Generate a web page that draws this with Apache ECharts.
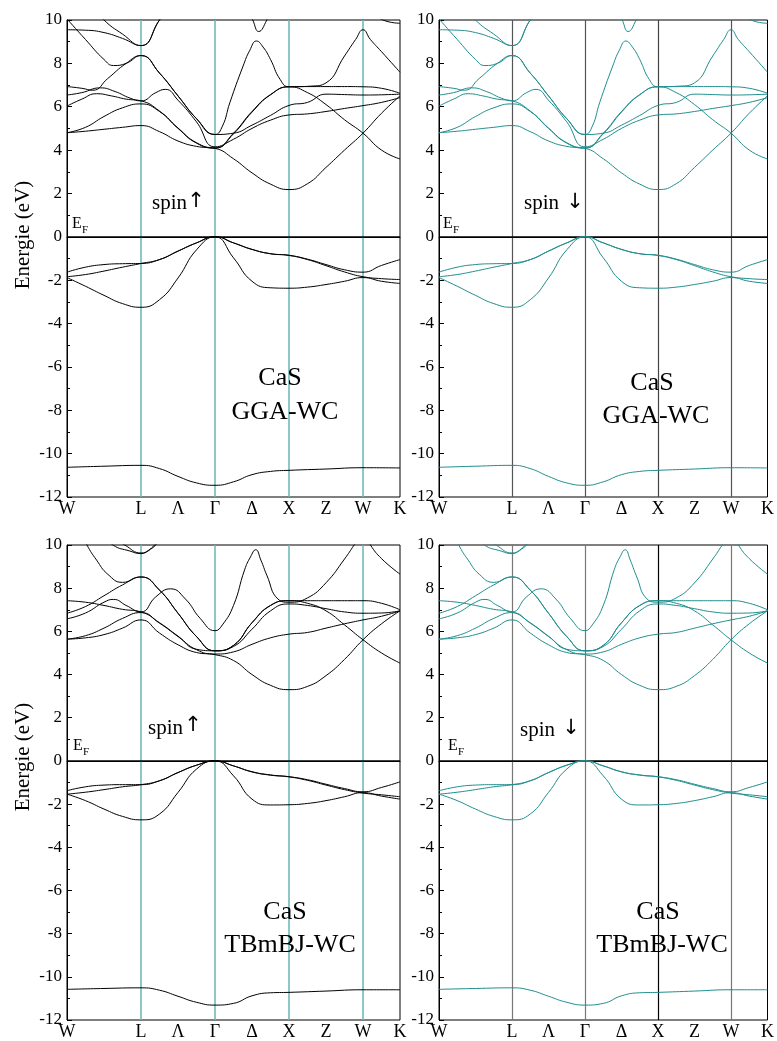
<!DOCTYPE html>
<html><head><meta charset="utf-8">
<script src="https://cdn.jsdelivr.net/npm/echarts/dist/echarts.min.js"></script>
<style>html,body{margin:0;padding:0;background:#fff}#c{width:777px;height:1041px}</style>
</head><body><div id="c"></div>
<script>
// ---------- k-path (W L Γ X W K) ----------
const kTicks  = [0, 0.5, 1, 1.5, 2, 2.5, 3, 3.5, 4, 4.5];
const kLabels = ['W', '', 'L', 'Λ', 'Γ', 'Δ', 'X', 'Z', 'W', 'K'];
const symLines = [1, 2, 3, 4];          // L, Γ, X, W vertical lines
const eMin = -12, eMax = 10, eStep = 2;

// ---------- GGA-WC bands [k, E(eV)] ----------
const ggaS  = [[0,-10.63],[0.5,-10.58],[1,-10.54],[1.25,-10.69],[1.5,-11.05],[1.75,-11.35],[2,-11.46],[2.25,-11.3],[2.5,-10.97],[2.75,-10.82],[3,-10.77],[3.5,-10.71],[4,-10.65],[4.5,-10.66]];
const ggaV1 = [[0,-1.88],[0.25,-2.28],[0.5,-2.7],[0.75,-3.08],[1,-3.25],[1.25,-2.9],[1.5,-1.9],[1.75,-0.6],[2,0],[2.25,-0.97],[2.5,-2.05],[2.75,-2.35],[3,-2.37],[3.25,-2.32],[3.5,-2.2],[3.75,-2.05],[4,-1.88],[4.25,-2.05],[4.5,-2.15]];
const ggaV2 = [[0,-1.84],[0.25,-1.74],[0.5,-1.58],[0.75,-1.4],[1,-1.23],[1.25,-1.05],[1.5,-0.66],[1.75,-0.28],[2,0],[2.25,-0.28],[2.5,-0.58],[2.75,-0.78],[3,-0.86],[3.25,-1.05],[3.5,-1.33],[3.75,-1.62],[4,-1.84],[4.25,-1.93],[4.5,-1.97]];
const ggaV3 = [[0,-1.63],[0.25,-1.4],[0.5,-1.28],[0.75,-1.24],[1,-1.23],[1.25,-1.05],[1.5,-0.66],[1.75,-0.28],[2,0],[2.25,-0.28],[2.5,-0.58],[2.75,-0.78],[3,-0.85],[3.25,-1.03],[3.5,-1.28],[3.75,-1.52],[4,-1.63],[4.25,-1.32],[4.5,-1.05]];
const ggaC1 = [[0,4.8],[0.25,4.87],[0.5,4.96],[0.75,5.05],[1,5.13],[1.25,4.85],[1.5,4.42],[1.75,4.17],[2,4.08],[2.25,3.6],[2.5,2.95],[2.75,2.43],[3,2.18],[3.25,2.45],[3.5,3.2],[3.75,4.0],[4,4.78],[4.25,5.7],[4.5,6.5]];
const ggaC2 = [[0,4.8],[0.25,5.05],[0.5,5.55],[0.75,5.95],[1,6.13],[1.25,5.78],[1.5,5.0],[1.75,4.32],[2,4.09],[2.25,4.75],[2.5,5.75],[2.75,6.55],[3,6.92],[3.25,6.93],[3.5,6.93],[3.75,6.93],[4,6.92],[4.25,6.85],[4.5,6.62]];
const ggaC3 = [[0,6.03],[0.2,6.35],[0.4,6.6],[0.6,6.5],[0.8,6.35],[1,6.27],[1.25,5.8],[1.5,5.02],[1.75,4.34],[2,4.1],[2.25,4.78],[2.5,5.78],[2.75,6.56],[3,6.92],[3.25,6.65],[3.5,6.1],[3.75,5.4],[4,4.78],[4.25,4.0],[4.5,3.59]];
const ggaC4 = [[0,6.54],[0.2,6.65],[0.45,6.87],[0.65,6.7],[0.85,6.4],[1,6.27],[1.2,6.65],[1.33,6.8],[1.5,6.3],[1.75,5.3],[2,4.15],[2.25,4.5],[2.5,5.0],[2.75,5.38],[3,5.62],[3.25,5.67],[3.5,5.78],[3.75,5.92],[4,6.05],[4.25,6.2],[4.5,6.42]];
const ggaC5 = [[0,6.93],[0.2,6.85],[0.35,6.76],[0.55,7.3],[0.8,8.0],[1,8.36],[1.25,7.55],[1.5,6.5],[1.75,5.45],[2,4.72],[2.25,4.78],[2.5,5.15],[2.75,5.6],[3,6.06],[3.25,6.2],[3.5,6.58],[3.75,6.56],[4,6.54],[4.25,6.55],[4.5,6.58]];
const ggaC6 = [[0,10.05],[0.25,9.1],[0.5,8.18],[0.63,7.9],[0.8,8.0],[1,8.36],[1.25,7.55],[1.5,6.5],[1.75,5.45],[2,4.72],[2.1,5.1],[2.2,6.18],[2.38,7.88],[2.47,8.6],[2.56,9.03],[2.65,8.75],[2.75,8.18],[2.88,7.26],[3,6.92],[3.3,6.95],[3.5,7.1],[3.75,8.34],[3.9,9.1],[4,9.55],[4.1,9.1],[4.25,8.54],[4.5,7.59]];
const ggaC7 = [[0,9.55],[0.25,9.53],[0.5,9.42],[0.75,9.15],[1,8.82],[1.25,10.0],[1.5,11.2]];
const ggaC8 = [[0.25,11.0],[0.5,10.0],[0.75,9.35],[1,8.82],[1.25,10.0],[1.5,11.2]];
const ggaC9 = [[2.4,10.8],[2.51,10.0],[2.59,9.47],[2.7,10.0],[2.8,10.8]];
const ggaC10 = [[4.0,10.6],[4.27,10.0],[4.5,9.85]];

// ---------- TB-mBJ bands [k, E(eV)] ----------
const tbS  = [[0,-10.58],[0.5,-10.54],[1,-10.51],[1.25,-10.62],[1.5,-10.9],[1.75,-11.18],[2,-11.31],[2.25,-11.23],[2.5,-10.88],[2.75,-10.74],[3,-10.72],[3.5,-10.66],[4,-10.6],[4.5,-10.6]];
const tbV1 = [[0,-1.54],[0.25,-1.84],[0.5,-2.23],[0.75,-2.57],[1,-2.73],[1.25,-2.46],[1.5,-1.46],[1.75,-0.38],[2,0],[2.25,-0.69],[2.5,-1.77],[2.75,-2.04],[3,-2.03],[3.25,-1.97],[3.5,-1.84],[3.75,-1.66],[4,-1.47],[4.25,-1.63],[4.5,-1.77]];
const tbV2 = [[0,-1.54],[0.25,-1.45],[0.5,-1.33],[0.75,-1.2],[1,-1.1],[1.25,-0.92],[1.5,-0.54],[1.75,-0.2],[2,0],[2.25,-0.23],[2.5,-0.51],[2.75,-0.66],[3,-0.74],[3.25,-0.9],[3.5,-1.12],[3.75,-1.33],[4,-1.49],[4.25,-1.57],[4.5,-1.66]];
const tbV3 = [[0,-1.38],[0.25,-1.2],[0.5,-1.12],[0.75,-1.1],[1,-1.1],[1.25,-0.92],[1.5,-0.54],[1.75,-0.2],[2,0],[2.25,-0.23],[2.5,-0.5],[2.75,-0.65],[3,-0.73],[3.25,-0.87],[3.5,-1.08],[3.75,-1.28],[4,-1.43],[4.25,-1.23],[4.5,-0.97]];
const tbC1 = [[0,5.64],[0.25,5.7],[0.5,5.85],[0.75,6.15],[1,6.53],[1.25,5.92],[1.5,5.38],[1.75,5.02],[2,4.92],[2.25,4.65],[2.5,4.0],[2.75,3.5],[3,3.3],[3.25,3.45],[3.5,3.95],[3.75,4.7],[4,5.61],[4.25,6.35],[4.5,6.95]];
const tbC2 = [[0,5.64],[0.25,5.8],[0.5,6.15],[0.75,6.6],[1,6.87],[1.25,6.38],[1.5,5.76],[1.75,5.15],[2,4.95],[2.25,5.05],[2.5,5.4],[2.75,5.7],[3,5.87],[3.25,5.95],[3.5,6.15],[3.75,6.35],[4,6.53],[4.25,6.7],[4.5,6.95]];
const tbC3 = [[0,6.58],[0.25,6.85],[0.5,7.35],[0.63,7.48],[0.8,7.2],[1,6.9],[1.2,7.6],[1.4,7.97],[1.6,7.5],[1.8,6.6],[2,6.03],[2.1,6.3],[2.25,7.2],[2.4,8.85],[2.48,9.45],[2.55,9.78],[2.62,9.3],[2.7,8.6],[2.85,7.5],[3,7.35],[3.25,7.55],[3.5,8.25],[3.75,9.35],[3.88,10.0],[4,10.6],[4.1,10.0],[4.25,9.37],[4.5,8.65]];
const tbC4 = [[0,7.42],[0.25,7.35],[0.5,7.2],[0.75,7.02],[1,6.9],[1.25,6.4],[1.5,5.78],[1.75,5.17],[2,5.1],[2.25,5.3],[2.5,6.1],[2.75,6.95],[3,7.27],[3.25,7.2],[3.5,7.05],[3.75,6.9],[4,6.84],[4.25,6.85],[4.5,6.95]];
const tbC5 = [[0,6.84],[0.25,7.15],[0.5,7.65],[0.75,8.15],[1,8.52],[1.25,7.91],[1.5,6.84],[1.75,5.76],[2,5.1],[2.25,5.35],[2.5,6.4],[2.75,7.2],[3,7.42],[3.25,7.42],[3.5,7.42],[3.75,7.42],[4,7.42],[4.25,7.3],[4.5,7.0]];
const tbC6 = [[0.1,11.2],[0.27,10.0],[0.4,9.3],[0.55,8.65],[0.75,8.27],[1,8.52],[1.25,7.91],[1.5,6.84],[1.75,5.76],[2,5.1],[2.25,5.35],[2.5,6.4],[2.75,7.2],[3,7.42],[3.25,7.3],[3.5,6.95],[3.75,6.3],[4,5.61],[4.25,5.0],[4.5,4.53]];
const tbC7 = [[0.45,10.6],[0.62,10.0],[0.85,9.72],[1,9.6],[1.1,9.75],[1.2,10.0],[1.35,10.6]];
const tbC8 = [[0.6,10.4],[0.78,10.0],[1,9.63],[1.2,10.05],[1.3,10.5]];

const ggaBands = [ggaS, ggaV1, ggaV2, ggaV3, ggaC1, ggaC2, ggaC3, ggaC4, ggaC5, ggaC6, ggaC7, ggaC8, ggaC9, ggaC10];
const tbBands  = [tbS, tbV1, tbV2, tbV3, tbC1, tbC2, tbC3, tbC4, tbC5, tbC6, tbC7, tbC8];

// ---------- styling ----------
const FONT = '"Liberation Serif", "Times New Roman", serif';
const TEAL = '#1f8d8d', VTEAL = '#66b6b6';
const panels = [
  {grid:{left:67, top:20, width:333, height:477}, bands:ggaBands, color:'#000', vcol:[VTEAL,VTEAL,VTEAL,VTEAL], vw:1.5},
  {grid:{left:439, top:20, width:332, height:477}, bands:ggaBands, color:TEAL, vcol:['#555','#555','#444','#555'], vw:1.2},
  {grid:{left:67, top:545, width:333, height:477}, bands:tbBands, color:'#000', vcol:[VTEAL,VTEAL,VTEAL,VTEAL], vw:1.5},
  {grid:{left:439, top:545, width:332, height:477}, bands:tbBands, color:TEAL, vcol:['#777','#777','#000','#777'], vw:1.2}
];

const grids=[], xAxes=[], yAxes=[], series=[];
panels.forEach((p, i) => {
  grids.push(Object.assign({show:true, borderColor:'#000', borderWidth:1, backgroundColor:'transparent'}, p.grid));
  xAxes.push({type:'value', gridIndex:i, min:0, max:4.5, interval:0.5,
    axisLine:{show:true, lineStyle:{color:'#000', width:1}}, axisTick:{show:false}, splitLine:{show:false},
    axisLabel:{show:true, margin:3, color:'#000', fontFamily:FONT, fontSize:18, showMinLabel:true, showMaxLabel:true,
      formatter: v => { const j = kTicks.findIndex(t => Math.abs(t - v) < 1e-6); return j >= 0 ? kLabels[j] : ''; }}});
  yAxes.push({type:'value', gridIndex:i, min:eMin, max:eMax, interval:eStep,
    axisLine:{show:true, lineStyle:{color:'#000', width:1}},
    axisTick:{show:true, inside:true, length:5, lineStyle:{color:'#000'}},
    minorTick:{show:true, splitNumber:2, length:3, lineStyle:{color:'#000'}},
    splitLine:{show:false},
    axisLabel:{color:'#000', fontFamily:FONT, fontSize:17, margin:5}});
  p.bands.forEach((b, j) => {
    const s = {type:'line', xAxisIndex:i, yAxisIndex:i, data:b, symbol:'none', showSymbol:false,
      smooth:0.5, clip:true, silent:true, animation:false,
      lineStyle:{color:p.color, width:1}, z:3};
    if (j === 0) {
      s.markLine = {silent:true, symbol:['none','none'], label:{show:false}, animation:false, z:2,
        data: symLines.map((k, m) => ({xAxis:k, lineStyle:{color:p.vcol[m], width:p.vw, type:'solid'}}))
          .concat([{yAxis:0, lineStyle:{color:'#000', width:1.5, type:'solid'}}])};
    }
    series.push(s);
  });
});

// ---------- annotations ----------
const texts = [];
function txt(x, y, t, size, align, font) {
  texts.push({type:'text', x:x, y:y, z:10, style:{text:t, fill:'#000', font:size + 'px ' + (font || FONT), textAlign:align || 'center', textVerticalAlign:'middle'}});
}
// y-axis titles
[235, 757].forEach(y => texts.push({type:'text', x:23, y:y, rotation:Math.PI/2, z:10,
  style:{text:'Energie (eV)', fill:'#000', font:'21px ' + FONT, textAlign:'center', textVerticalAlign:'middle'}}));
// E_F labels
[[72,224],[443,224],[73,746],[448,746]].forEach(([x,y]) => { txt(x, y, 'E', 16, 'left'); txt(x + 10, y + 6, 'F', 11, 'left'); });
// spin labels
const ARW = '"DejaVu Sans", sans-serif';
txt(152, 203, 'spin', 21, 'left'); txt(196, 202, '\u2191', 21, 'center', ARW);
txt(524, 203, 'spin', 21, 'left'); txt(575, 203, '\u2193', 21, 'center', ARW);
txt(148, 728, 'spin', 21, 'left'); txt(193, 726, '\u2191', 21, 'center', ARW);
txt(520, 730, 'spin', 21, 'left'); txt(571, 729, '\u2193', 21, 'center', ARW);
// compound / method
txt(280, 378, 'CaS', 26); txt(285, 412, 'GGA-WC', 26);
txt(652, 383, 'CaS', 26); txt(656, 416, 'GGA-WC', 26);
txt(285, 912, 'CaS', 26); txt(290, 945, 'TBmBJ-WC', 26);
txt(658, 912, 'CaS', 26); txt(662, 945, 'TBmBJ-WC', 26);

const chart = echarts.init(document.getElementById('c'), null, {renderer:'canvas'});
chart.setOption({animation:false, backgroundColor:'#fff', grid:grids, xAxis:xAxes, yAxis:yAxes, series:series, graphic:texts});
</script></body></html>
